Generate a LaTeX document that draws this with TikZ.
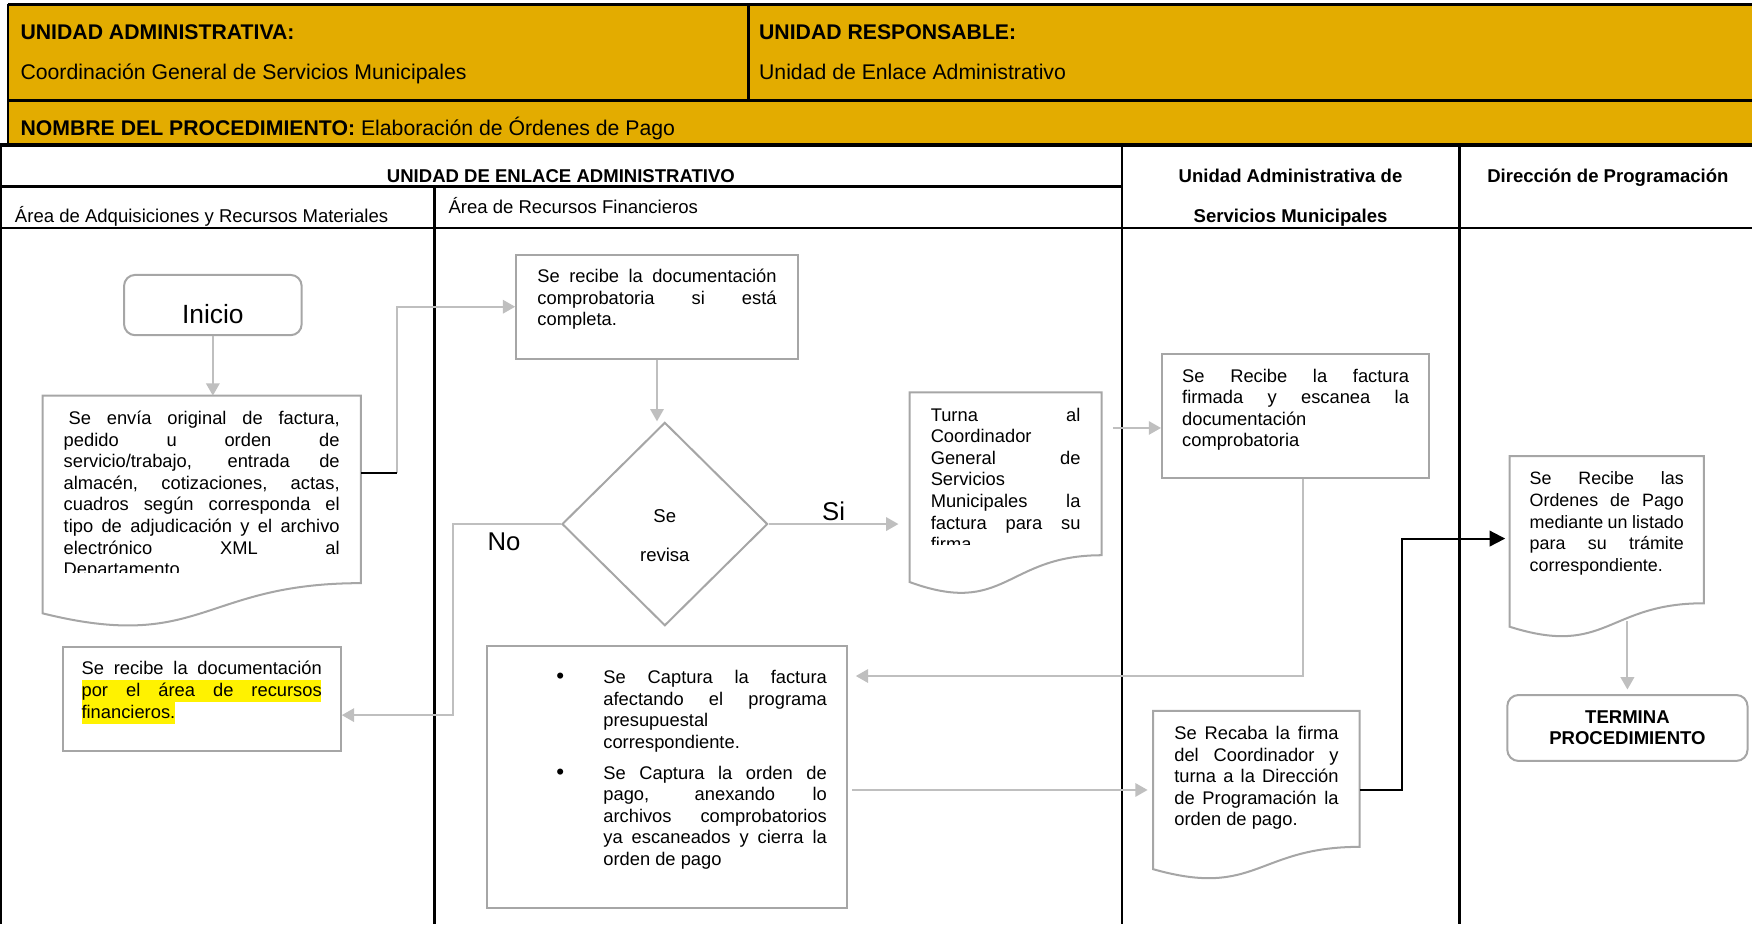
\documentclass[tikz,border=0pt]{standalone}
\usepackage{fontspec}
\setmainfont{Liberation Sans}
\usetikzlibrary{arrows.meta,shapes.geometric,calc}

\definecolor{headgold}{RGB}{227,172,0}
\definecolor{boxgray}{RGB}{166,166,166}
\definecolor{linegray}{RGB}{191,191,191}

\tolerance=10000 \hbadness=10000 \vbadness=10000
\hyphenpenalty=10000 \exhyphenpenalty=10000 \hfuzz=3pt \vfuzz=100pt

\newcommand{\bodyfont}{\fontsize{8.2}{9.65}\selectfont}
\newcommand{\boxtext}[3]{\parbox[t][#2][t]{#1}{\strut #3}}
\newcommand{\docshape}[2]{%
  \draw[docline] (#1.south east) -- (#1.north east) -- (#1.north west)
    -- ($(#1.south west)+(0,#2)$) .. controls ($(#1.south)+(0,2.31*#2)$) and (#1.south) .. cycle;}

\tikzset{
  procbox/.style={draw=boxgray, line width=0.9pt, inner xsep=#1, inner ysep=5.75pt, font=\bodyfont},
  procbox/.default=9pt,
  docnode/.style={procbox=#1, draw=none},
  docnode/.default=9pt,
  docline/.style={draw=boxgray, line width=0.9pt},
  startbox/.style={draw=boxgray, line width=0.9pt, rounded corners=5pt},
  decision/.style={diamond, draw=boxgray, line width=0.9pt, minimum width=92pt, minimum height=91pt,
    inner sep=0pt, font=\fontsize{8.3}{17.5}\selectfont},
  flow/.style={draw=linegray, line width=0.9pt, -{Triangle[width=6pt,length=5.5pt]}},
  blackflow/.style={draw=black, line width=0.9pt, -{Triangle[width=7pt,length=7pt]}},
  joinline/.style={draw=black, line width=0.9pt},
  headrule/.style={line width=1.6pt},
  thinrule/.style={line width=1.1pt},
  headtext/.style={anchor=base west, inner sep=0pt, font=\fontsize{9.5}{11}\selectfont},
  lanetext/.style={anchor=base, inner sep=0pt, font=\fontsize{8.3}{10}\selectfont\bfseries},
  bigtext/.style={inner sep=0pt, font=\fontsize{11.5}{13}\selectfont}
}

\begin{document}
\begin{tikzpicture}[x=0.5pt,y=-0.5pt]
  \useasboundingbox (0,0) rectangle (1568,827);

  % encabezado
  \fill[headgold] (7,4) rectangle (1568,129);
  \draw[headrule] (7,4) -- (1568,4);
  \draw[thinrule] (7,4) -- (7,129);
  \draw[thinrule] (7,90) -- (1568,90);
  \draw[thinrule] (670,4) -- (670,90);
  \draw[headrule] (0,130) -- (1568,130);
  \node[headtext] (uadm) at (18,35) {\bfseries UNIDAD ADMINISTRATIVA:};
  \node[headtext] (uadmval) at (18,71) {Coordinación General de Servicios Municipales};
  \node[headtext] (uresp) at (679,35) {\bfseries UNIDAD RESPONSABLE:};
  \node[headtext] (urespval) at (679,71) {Unidad de Enlace Administrativo};
  \node[headtext] (nombre) at (18,121) {\textbf{NOMBRE DEL PROCEDIMIENTO:} Elaboración de Órdenes de Pago};

  % carriles
  \draw[thinrule] (1,130) -- (1,827);
  \draw[thinrule] (0,167) -- (1004,167);
  \draw[thinrule] (0,204) -- (1568,204);
  \draw[thinrule] (389,167) -- (389,827);
  \draw[thinrule] (1004,130) -- (1004,827);
  \draw[thinrule] (1306,130) -- (1306,827);
  \node[lanetext] (enlace) at (502,163) {UNIDAD DE ENLACE ADMINISTRATIVO};
  \node[lanetext] (uasm1) at (1155,163) {Unidad Administrativa de};
  \node[lanetext] (uasm2) at (1155,199) {Servicios Municipales};
  \node[lanetext] (dprog) at (1439,163) {Dirección de Programación};
  \node[lanetext, anchor=base west, font=\fontsize{8.3}{10}\selectfont] (adq) at (13,199) {Área de Adquisiciones y Recursos Materiales};
  \node[lanetext, anchor=base west, font=\fontsize{8.3}{10}\selectfont] (fin) at (401,191) {Área de Recursos Financieros};

  % pasos
  \node[startbox, minimum width=79.5pt, minimum height=27pt, text height=16.4pt, text depth=0pt,
    font=\fontsize{11.8}{13}\selectfont] (inicio) at (190.5,273) {Inicio};

  \begin{scope}
    \clip (39,355) rectangle (322,512);
    \node[docnode] (envia) at (180.5,438) {\boxtext{123.5pt}{71.5pt}{\hspace*{2.2pt}Se envía original de factura,\linebreak
      pedido u orden de\linebreak servicio/trabajo, entrada de\linebreak almacén, cotizaciones, actas,\linebreak
      cuadros según corresponda el\linebreak tipo de adjudicación y el archivo\linebreak electrónico XML al\linebreak Departamento}};
  \end{scope}
  \docshape{envia}{27}

  \node[procbox=9.5pt] (recibe) at (588,274.5) {\boxtext{107pt}{35pt}{Se recibe la documentación\linebreak
    comprobatoria si está\linebreak completa.}};

  \node[decision] (revisa) at (595,469) {\parbox[c][34pt][b]{50pt}{\centering Se\\revisa}};

  \begin{scope}
    \clip (815,352) rectangle (985,487);
    \node[docnode] (turna) at (900,424) {\boxtext{67pt}{60.5pt}{Turna al\linebreak Coordinador\linebreak General de\linebreak
      Servicios\linebreak Municipales la\linebreak factura para su\linebreak firma}};
  \end{scope}
  \docshape{turna}{24}

  % resaltado amarillo
  \fill[yellow] (73,609) rectangle (287,628.5);
  \fill[yellow] (73,628.5) rectangle (157,647.5);
  \node[procbox=8.5pt] (recfin) at (180.5,625.5) {\boxtext{107.5pt}{35pt}{Se recibe la documentación\linebreak
    por el área de recursos\linebreak financieros.}};

  \node[procbox, inner ysep=10.25pt] (captura) at (597,695.5) {\parbox[t][97pt][t]{143pt}{%
    \begin{list}{{\fontsize{10}{10}\selectfont\textbullet}}{\setlength{\leftmargin}{43pt}\setlength{\labelwidth}{20pt}%
      \setlength{\labelsep}{17.5pt}\setlength{\itemsep}{4pt}\setlength{\parsep}{0pt}%
      \setlength{\topsep}{0pt}\setlength{\partopsep}{0pt}}
    \item \strut Se Captura la factura\linebreak afectando el programa\linebreak presupuestal\linebreak correspondiente.
    \item \strut Se Captura la orden de\linebreak pago, anexando lo\linebreak archivos comprobatorios\linebreak
      ya escaneados y cierra la\linebreak orden de pago
    \end{list}}};

  \node[procbox] (recibefact) at (1159.5,372.5) {\boxtext{101.5pt}{44pt}{Se Recibe la factura\linebreak
    firmada y escanea la\linebreak documentación\linebreak comprobatoria}};

  \node[docnode] (recaba) at (1124.5,697) {\boxtext{73.5pt}{48.5pt}{Se Recaba la firma\linebreak del Coordinador y\linebreak
    turna a la Dirección\linebreak de Programación la\linebreak orden de pago.}};
  \docshape{recaba}{20}

  \node[docnode=8.5pt, font=\fontsize{8}{9.65}\selectfont] (ordenes) at (1438,474) {\boxtext{69pt}{53.5pt}{Se Recibe las\linebreak
    Ordenes de Pago\linebreak mediante un listado\linebreak para su trámite\linebreak correspondiente.}};
  \docshape{ordenes}{21}

  \node[startbox, minimum width=107.5pt, minimum height=29.5pt, align=center,
    font=\fontsize{8.3}{9.5}\selectfont\bfseries] (termina) at (1456.5,651.5) {TERMINA\\PROCEDIMIENTO};

  % conectores
  \draw[flow] (inicio) -- (inicio |- envia.north);
  \coordinate (k1) at (355,423);
  \draw[flow] (k1) |- (recibe.west);
  \draw[joinline] (envia.east |- k1) -- (k1);
  \draw[flow] (recibe) -- (recibe |- revisa.north);
  \coordinate (k2) at (405,640);
  \draw[flow] (revisa.west) -| (k2) -- (recfin.east |- k2);
  \node[bigtext] (no) at (451,485) {No};
  \draw[flow, shorten >=5pt] (revisa.east) -- (turna.west |- revisa.east);
  \node[bigtext] (si) at (746,458) {Si};
  \coordinate (k3) at (1000,383);
  \draw[flow, shorten <=5pt] (turna.east |- k3) -- (recibefact.west |- k3);
  \coordinate (k4) at (1166,605);
  \draw[flow, shorten >=3.5pt] (recibefact.south -| k4) |- (captura.east |- k4);
  \coordinate (k5) at (900,707);
  \draw[flow, shorten <=2pt, shorten >=2.5pt] (captura.east |- k5) -- (recaba.west |- k5);
  \coordinate (k6) at (1255,482);
  \draw[blackflow, shorten >=2pt] (recaba.east |- k5) -| (k6) -- (ordenes.west |- k6);
  \draw[flow, shorten >=2pt] ($(ordenes.south -| termina.north)+(0,16)$) -- (termina.north);
\end{tikzpicture}
\end{document}
